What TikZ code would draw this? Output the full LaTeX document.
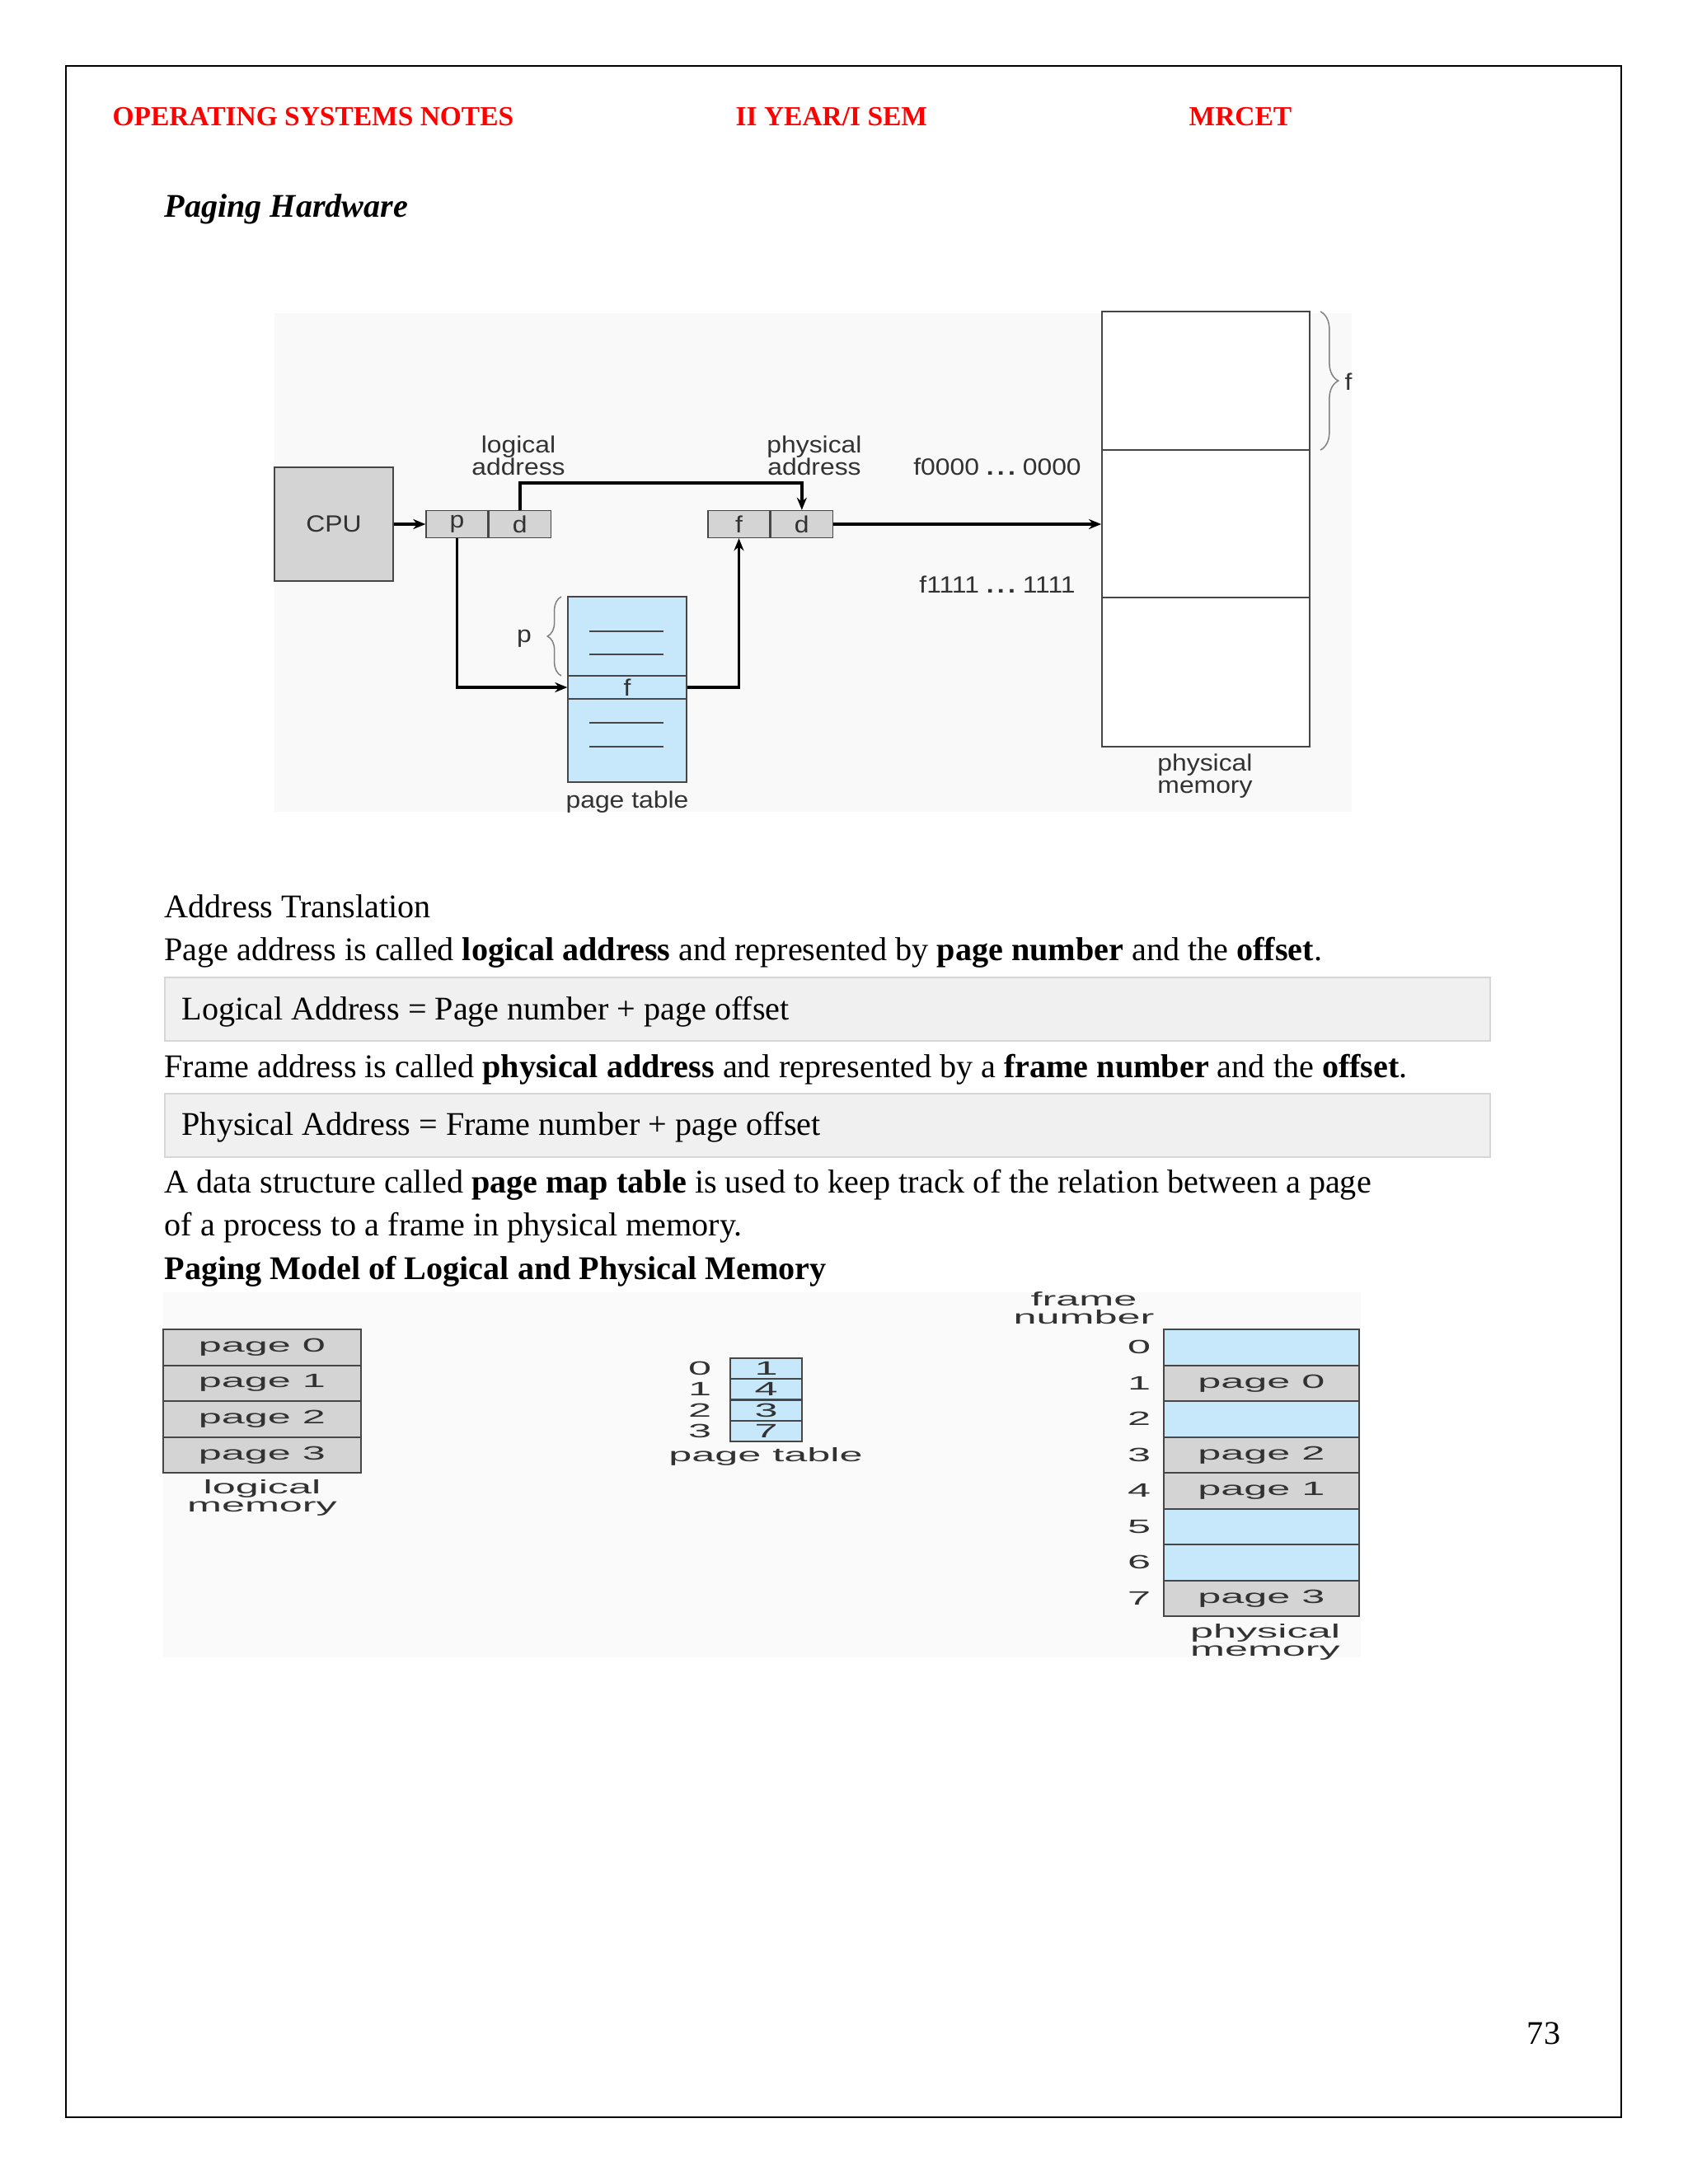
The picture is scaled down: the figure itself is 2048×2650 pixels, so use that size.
\documentclass[tikz,border=0pt]{standalone}
\usepackage{fontspec}
\setmainfont{Liberation Serif}
\newfontfamily\figsans[FakeStretch=1.12]{Liberation Sans}
\newfontfamily\widesans[FakeStretch=2.15]{Liberation Sans}
\usetikzlibrary{arrows.meta, positioning, decorations.pathreplacing}

\definecolor{hdrred}{RGB}{255,0,0}
\definecolor{cellblue}{RGB}{198,232,250}
\definecolor{cellgray}{RGB}{212,212,212}
\definecolor{boxgray}{RGB}{240,240,240}
\definecolor{boxedge}{RGB}{214,214,214}
\definecolor{edgegray}{RGB}{70,70,70}
\definecolor{labelgray}{RGB}{50,50,50}
\newcommand{\pxl}{0.29883pt}
\newcommand{\bigdots}{{\bfseries .\hspace{0.15em}.\hspace{0.15em}.}}

\begin{document}
\begin{tikzpicture}[
    x=0.29883pt, y=-0.29883pt,
    every node/.style={inner sep=0pt},
    hdr/.style={anchor=base west, text=hdrred, font=\fontsize{10}{12}\selectfont\bfseries},
    para/.style={anchor=base west, font=\fontsize{12}{14}\selectfont},
    eqbox/.style={draw=boxedge, fill=boxgray, line width=0.5pt, anchor=north west, minimum width=1608*\pxl, minimum height=77*\pxl},
    lbl/.style={text=labelgray, font=\figsans\fontsize{8.5}{8.1}\selectfont, align=center},
    cell/.style={lbl, draw=edgegray, fill=cellgray, line width=0.4pt, minimum width=75*\pxl, minimum height=33*\pxl},
    tabbox/.style={lbl, draw=edgegray, fill=cellblue, line width=0.4pt, minimum width=144*\pxl},
    flow/.style={-{Stealth[length=4.5pt, width=3.6pt]}, line width=1.1pt},
    brc/.style={decorate, decoration={brace, amplitude=#1}, draw=gray, line width=0.45pt},
    wlbl/.style={text=labelgray, font=\widesans\fontsize{7}{6.6}\selectfont, align=center},
    lmcell/.style={wlbl, draw=edgegray, fill=cellgray, line width=0.6pt, minimum width=240*\pxl, minimum height=43.5*\pxl},
    ptcell/.style={wlbl, draw=edgegray, fill=cellblue, line width=0.6pt, minimum width=87*\pxl, minimum height=25.25*\pxl},
    frm/.style={wlbl, draw=edgegray, line width=0.6pt, minimum width=237*\pxl, minimum height=43.5*\pxl}
]
\useasboundingbox (0,0) rectangle (2048,2650);
\draw[line width=0.7pt] (80,80) rectangle (1967,2569);

% header
\node[hdr] (hleft) at (136,152) {OPERATING SYSTEMS NOTES};
\node[hdr] (hmid) at (892,152) {II YEAR/I SEM};
\node[hdr] (hright) at (1442,152) {MRCET};
\node[para, font=\fontsize{12}{14}\selectfont\bfseries\itshape] (hwtitle) at (199,263) {Paging Hardware};

% paging hardware
\fill[black!2.5] (333,380) rectangle (1640,985);
\node[cell, minimum width=144*\pxl, minimum height=138*\pxl] (cpu) at (405,636) {CPU};
\node[cell] (lp) at (554.5,636) {p};
\node[cell, right=0pt of lp] (ld) {d};
\node[cell] (pf) at (896.5,636) {f};
\node[cell, right=0pt of pf] (pd) {d};
\node[lbl] (laddr) at (629,553) {logical\\address};
\node[lbl] (paddr) at (988,553) {physical\\address};

\node[tabbox, minimum height=225*\pxl] (ptab) at (761,836.5) {};
\node[tabbox, minimum height=28*\pxl] (fent) at (761,834) {f};
\foreach \y in {766,794,877,906}
  \draw[edgegray, line width=0.6pt] (715,\y) -- (805,\y);
\draw[brc=5pt] (681,820) -- (681,724);
\node[lbl] (plbl) at (636,775) {p};
\node[lbl] (ptlbl) at (761,973) {page table};

\node[draw=edgegray, fill=white, line width=0.5pt, minimum width=252*\pxl, minimum height=528*\pxl] (pmem) at (1463,642) {};
\draw[edgegray, line width=0.5pt] (1337,546) -- (1589,546);
\draw[edgegray, line width=0.5pt] (1337,725) -- (1589,725);
\draw[brc=6.5pt] (1602,378) -- (1602,546);
\node[lbl] (flbl) at (1636,463) {f};
\node[lbl] (lo) at (1210,566) {f0000 \bigdots\ 0000};
\node[lbl] (hi) at (1210,709) {f1111 \bigdots\ 1111};
\node[lbl] (pmlbl) at (1462,942) {physical\\memory};

\draw[flow] (cpu.east) -- (lp.west);
\draw[flow] (ld.north) -- ++(0,-33) -| (pd.north);
\draw[flow] (lp.south) |- (fent.west);
\draw[flow] (fent.east) -| (pf.south);
\draw[flow] (pd.east) -- (pd.east -| pmem.west);

% address translation text
\node[para] (t1) at (199,1113) {Address Translation};
\node[para] (t2) at (199,1165) {Page address is called \textbf{logical address} and represented by \textbf{page number} and the \textbf{offset}.};
\node[eqbox] (eq1) at (199,1185) {};
\node[para] (t3) at (220,1237) {Logical Address = Page number + page offset};
\node[para] (t4) at (199,1307) {Frame address is called \textbf{physical address} and represented by a \textbf{frame number} and the \textbf{offset}.};
\node[eqbox] (eq2) at (199,1326) {};
\node[para] (t5) at (220,1377) {Physical Address = Frame number + page offset};
\node[para] (t6) at (199,1447) {A data structure called \textbf{page map table} is used to keep track of the relation between a page};
\node[para] (t7) at (199,1499) {of a process to a frame in physical memory.};
\node[para, font=\fontsize{12}{14}\selectfont\bfseries] (t8) at (199,1552) {Paging Model of Logical and Physical Memory};

% paging model
\fill[black!2] (198,1568) rectangle (1651,2011);
\foreach \i in {0,...,3}
  \node[lmcell] (lm\i) at (318,{1634.75+43.5*\i}) {page \i};
\node[wlbl] (lmlbl) at (318,1817) {logical\\memory};

\foreach \i/\f in {0/1,1/4,2/3,3/7} {
  \node[ptcell] (pt\i) at (929.5,{1660.6+25.25*\i}) {\f};
  \node[wlbl] (ix\i) at (849,{1660.6+25.25*\i}) {\i};
}
\node[wlbl] (ptlbl2) at (929,1767) {page table};

\node[wlbl] (fnlbl) at (1315,1587) {frame\\number};
\foreach \i/\c/\t in {0/cellblue/{},1/cellgray/page 0,2/cellblue/{},3/cellgray/page 2,4/cellgray/page 1,5/cellblue/{},6/cellblue/{},7/cellgray/page 3} {
  \node[frm, fill=\c] (fr\i) at (1530.5,{1634.75+43.5*\i}) {\t};
  \node[wlbl] (fn\i) at (1382,{1634.75+43.5*\i}) {\i};
}
\node[wlbl] (pmlbl2) at (1535,1992) {physical\\memory};

\node[para, anchor=base] (pgno) at (1873,2480) {73};
\end{tikzpicture}
\end{document}
